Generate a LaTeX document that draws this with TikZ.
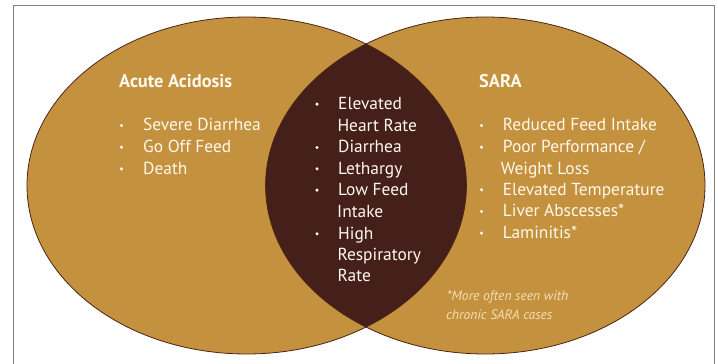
\documentclass[tikz,border=0pt]{standalone}
\usepackage{fontspec}
\setmainfont{PT Sans}
\definecolor{tan}{HTML}{C4913F}
\definecolor{darkbrown}{HTML}{45201A}
\definecolor{edge}{HTML}{4A2416}
\definecolor{txt}{HTML}{FFF8EC}
\definecolor{note}{HTML}{F3DFB4}
\definecolor{frame}{HTML}{7F7F7F}
\begin{document}
\begin{tikzpicture}[x=1pt,y=-1pt,
  item/.style={anchor=base west,inner sep=0pt,text=txt,font=\fontsize{17.4}{19}\selectfont},
  head/.style={anchor=base west,inner sep=0pt,text=txt,font=\fontsize{18.4}{20}\selectfont\bfseries},
  notetext/.style={anchor=base west,inner sep=0pt,text=note,font=\fontsize{13.6}{15}\selectfont\itshape},
  dot/.style={circle,fill=txt,inner sep=0pt,minimum size=3.4pt}]
\useasboundingbox (0,0) rectangle (718,364);
\fill[white] (0,0) rectangle (718,364);
\draw[frame,line width=1pt] (13,380) -- (13,5) -- (714,5) -- (714,380);
% ellipses
\fill[tan] (246.7,185.5) ellipse [x radius=219.7, y radius=168.5];
\fill[tan] (485.3,185.5) ellipse [x radius=219.7, y radius=168.5];
\begin{scope}
\clip (246.7,185.5) ellipse [x radius=219.7, y radius=168.5];
\fill[darkbrown] (485.3,185.5) ellipse [x radius=219.7, y radius=168.5];
\end{scope}
\draw[edge,line width=0.8pt] (246.7,185.5) ellipse [x radius=219.7, y radius=168.5];
\draw[edge,line width=0.8pt] (485.3,185.5) ellipse [x radius=219.7, y radius=168.5];
% left
\node[head] (lh) at (119,87.3) {Acute Acidosis};
\node[dot] (lb1) at (121.5,125.5) {};
\node[item] (l1) at (143,130.7) {Severe Diarrhea};
\node[dot] (lb2) at (121.5,147.1) {};
\node[item] (l2) at (143,152.3) {Go Off Feed};
\node[dot] (lb3) at (121.5,168.8) {};
\node[item] (l3) at (143,174) {Death};
% middle
\node[dot] (mb1) at (317,104.1) {};
\node[item] (m1) at (338,109.3) {Elevated};
\node[item] (m2) at (337.3,131) {Heart Rate};
\node[dot] (mb2) at (317,147.5) {};
\node[item] (m3) at (338,152.7) {Diarrhea};
\node[dot] (mb3) at (317,168.8) {};
\node[item] (m4) at (338,174) {Lethargy};
\node[dot] (mb4) at (317,190.1) {};
\node[item] (m5) at (338,195.3) {Low Feed};
\node[item] (m6) at (337,217.3) {Intake};
\node[dot] (mb5) at (317,233.8) {};
\node[item] (m7) at (338,239) {High};
\node[item] (m8) at (337.3,260.3) {Respiratory};
\node[item] (m9) at (337.3,281.7) {Rate};
% right
\node[head] (rh) at (479,87.3) {SARA};
\node[dot] (rb1) at (481.5,125.5) {};
\node[item] (r1) at (502.7,130.7) {Reduced Feed Intake};
\node[dot] (rb2) at (481.5,147.1) {};
\node[item] (r2) at (502.7,152.3) {Poor Performance /};
\node[item] (r3) at (500.7,174) {Weight Loss};
\node[dot] (rb3) at (481.5,189.8) {};
\node[item] (r4) at (502.7,195) {Elevated Temperature};
\node[dot] (rb4) at (481.5,211.5) {};
\node[item] (r5) at (502.7,216.7) {Liver Abscesses*};
\node[dot] (rb5) at (481.5,233.1) {};
\node[item] (r6) at (502.7,238.3) {Laminitis*};
% note
\node[notetext] (n1) at (447,300.7) {*More often seen with};
\node[notetext] (n2) at (446,319.3) {chronic SARA cases};
\end{tikzpicture}
\end{document}
